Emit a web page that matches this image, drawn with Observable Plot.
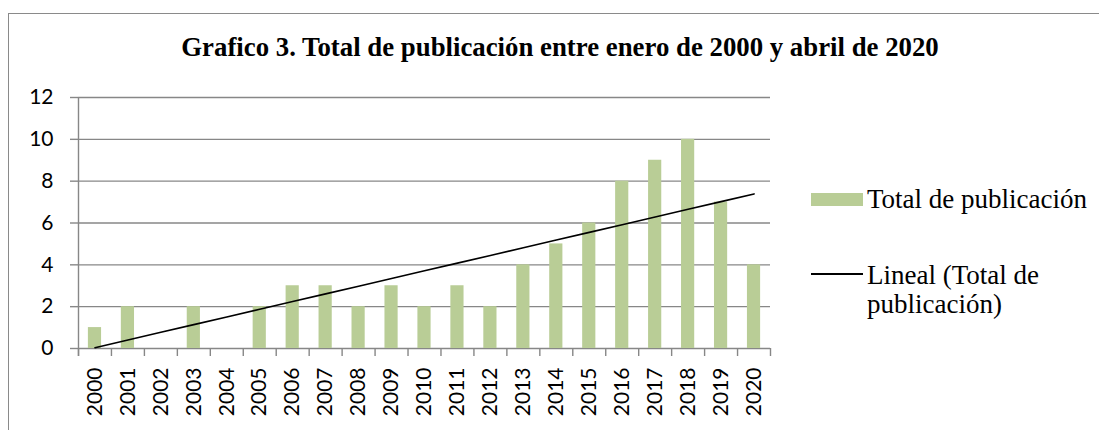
<!DOCTYPE html>
<html>
<head>
<meta charset="utf-8">
<script src="https://cdn.jsdelivr.net/npm/d3@7"></script>
<script src="https://cdn.jsdelivr.net/npm/@observablehq/plot@0.6"></script>
<style>
  html, body { margin: 0; padding: 0; background: #fff; }
  #wrap { position: relative; width: 1099px; height: 430px; overflow: hidden; }
  #border { position: absolute; left: 8px; top: 13px; width: 2000px; height: 1000px;
            border-left: 1.5px solid #8a8a8a; border-top: 1.5px solid #8a8a8a; }
  #title { position: absolute; left: 0; width: 1120px; top: 31px; text-align: center;
           font-family: "Liberation Serif", "Times New Roman", serif; font-weight: bold;
           font-size: 26.8px; line-height: 32px; color: #000; white-space: nowrap; }
  .leg { position: absolute; font-family: "Liberation Serif", "Times New Roman", serif;
         font-size: 27px; color: #000; line-height: 29px; white-space: nowrap; }
  #sw1 { position: absolute; left: 811px; top: 193px; width: 52px; height: 13px; background: #b9cd96; }
  #sw2 { position: absolute; left: 811px; top: 273px; width: 52px; height: 1.6px; background: #000; }
  #plot { position: absolute; left: 0; top: 0; }
</style>
</head>
<body>
<div id="wrap">
  <div id="border"></div>
  <div id="plot"></div>
  <div id="title"></div>
  <div id="sw1"></div>
  <div class="leg" id="l1" style="left:867px; top:185px;"></div>
  <div id="sw2"></div>
  <div class="leg" id="l2" style="left:867px; top:261px;"></div>
</div>
<script>
// ---- data ----
const years = ["2000","2001","2002","2003","2004","2005","2006","2007","2008","2009","2010",
               "2011","2012","2013","2014","2015","2016","2017","2018","2019","2020"];
const totals = [1,2,0,2,0,2,3,3,2,3,2,3,2,4,5,6,8,9,10,7,4];
const yTicks = [0,2,4,6,8,10,12];
const titleText = "Grafico 3. Total de publicación entre enero de 2000 y abril de 2020";
const seriesName = "Total de publicación";
const trendName = ["Lineal (Total de", "publicación)"];

// ---- derived ----
const data = years.map((y, i) => ({year: y, value: totals[i], i}));
// Excel-style linear trendline (least squares on category index)
const n = data.length;
const mx = d3.mean(data, d => d.i), my = d3.mean(data, d => d.value);
const slope = d3.sum(data, d => (d.i - mx) * (d.value - my)) / d3.sum(data, d => (d.i - mx) ** 2);
const icpt = my - slope * mx;
const trend = data.map(d => ({year: d.year, fit: icpt + slope * d.i}));

const W = 1099, H = 430, ML = 78, MR = 329, MT = 97, MB = 82;
const step = (W - ML - MR) / n;
const gray = "#878787";
const font = "Lato, 'Open Sans', sans-serif";

const chart = Plot.plot({
  width: W, height: H,
  marginLeft: ML, marginRight: MR, marginTop: MT, marginBottom: MB,
  style: {background: "transparent", fontFamily: font, fontSize: "21px", color: "#000", overflow: "visible"},
  x: {domain: years, type: "band", paddingInner: 0.6, paddingOuter: 0.3, round: false, label: null},
  y: {domain: [0, 12], label: null},
  marks: [
    Plot.ruleY(yTicks, {stroke: gray, strokeWidth: 1.4}),
    Plot.axisY({ticks: yTicks, tickSize: 8, tickPadding: 17, stroke: gray, strokeWidth: 1.4, label: null, fontSize: 21}),
    // category boundary ticks (Excel style): left of each category and right end
    Plot.ruleX(years, {x: d => d, y1: 0, y2: 0, insetBottom: -8, dx: -step / 2, stroke: gray, strokeWidth: 1.4}),
    Plot.ruleX([years[n - 1]], {x: d => d, y1: 0, y2: 0, insetBottom: -8, dx: step / 2, stroke: gray, strokeWidth: 1.4}),
    // left axis line
    Plot.ruleX([years[0]], {x: d => d, y1: 12, y2: 0, insetBottom: -8, dx: -step / 2, stroke: gray, strokeWidth: 1.4}),
    Plot.barY(data, {x: "year", y: "value", fill: "#b9cd96"}),
    Plot.line(trend, {x: "year", y: "fit", stroke: "#000", strokeWidth: 1.6}),
    Plot.axisX({tickSize: 0, tickPadding: 19, tickRotate: -90, label: null, fontSize: 21})
  ]
});
document.getElementById("plot").appendChild(chart);
document.getElementById("title").textContent = titleText;
document.getElementById("l1").textContent = seriesName;
document.getElementById("l2").innerHTML = trendName[0] + "<br>" + trendName[1];
</script>
</body>
</html>
